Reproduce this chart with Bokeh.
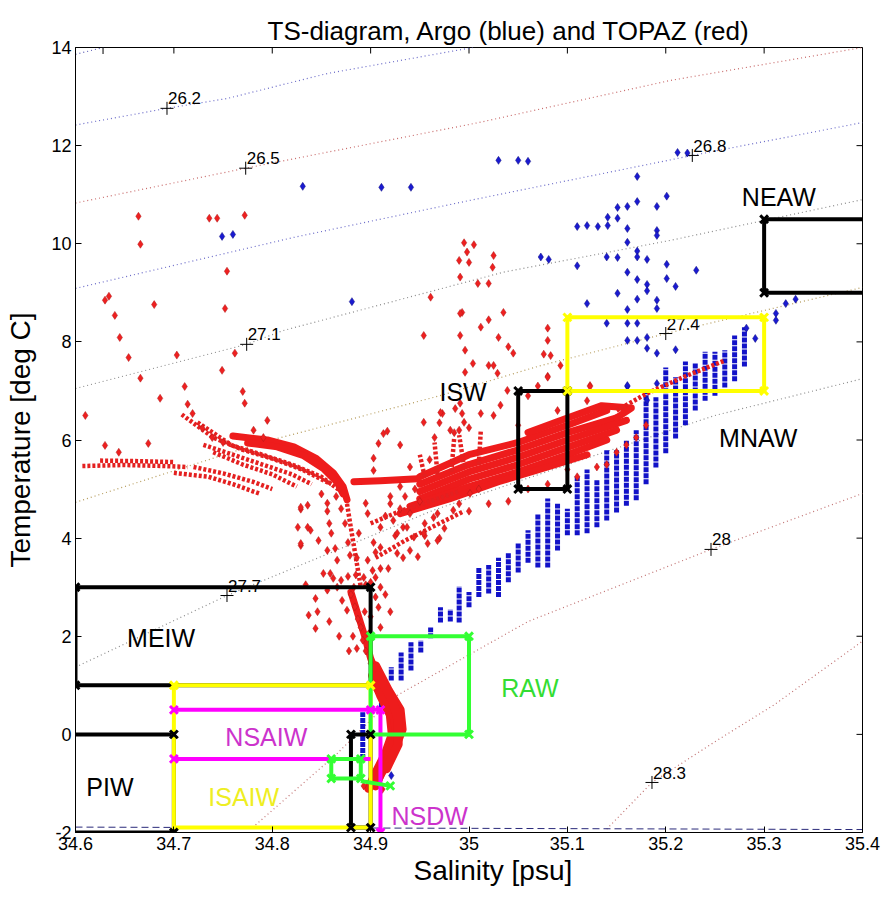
from bokeh.plotting import figure
from bokeh.models import Range1d, FixedTicker, Title
from bokeh.core.properties import value
from bokeh.embed import file_html
from bokeh.resources import INLINE

# ---------------- axes ----------------
X_TICKS = [34.6, 34.7, 34.8, 34.9, 35.0, 35.1, 35.2, 35.3, 35.4]
X_LABELS = ["34.6", "34.7", "34.8", "34.9", "35", "35.1", "35.2", "35.3", "35.4"]
Y_TICKS = [-2, 0, 2, 4, 6, 8, 10, 12, 14]
Y_LABELS = ["-2", "0", "2", "4", "6", "8", "10", "12", "14"]
S_MIN, S_MAX = 34.6, 35.4
T_MIN, T_MAX = -2, 14

# ---------------- isopycnals (sigma-theta) ----------------
ISO_NAMES = ["25.9", "26.2", "26.5", "26.8", "27.1", "27.4", "27.7", "28", "28.3"]
ISO_S = [
    [34.6, 34.628, 34.66],
    [34.6, 34.693, 34.754, 34.856, 35.004],
    [34.6, 34.773, 35.01, 35.205, 35.4],
    [34.6, 34.822, 35.0, 35.227, 35.4],
    [34.6, 34.774, 34.811, 35.035, 35.205, 35.4],
    [34.6, 34.79, 34.97, 35.07, 35.2, 35.4],
    [34.6, 34.754, 34.964, 35.13, 35.25, 35.4],
    [34.78, 34.866, 34.923, 35.06, 35.246, 35.4],
    [35.14, 35.186, 35.25, 35.31, 35.4],
]
ISO_T = [
    [13.86, 14.0, 14.15],
    [12.42, 12.76, 12.96, 13.47, 14.0],
    [10.83, 11.54, 12.47, 13.33, 14.0],
    [9.09, 10.13, 10.88, 11.8, 12.47],
    [7.05, 7.95, 8.23, 9.42, 10.07, 10.9],
    [4.73, 5.95, 6.9, 7.5, 8.17, 9.11],
    [1.37, 2.83, 4.57, 5.7, 6.5, 7.25],
    [-1.9, -0.39, 0.75, 2.3, 3.77, 4.91],
    [-1.93, -0.98, -0.15, 0.6, 1.9],
]
ISO_COLORS = ["#5a5ab4", "#6a6ac8", "#c86a6a", "#6a6ac8", "#8a8a8a",
              "#b49a5a", "#8a8a8a", "#c07070", "#c07070"]

# clabel positions: "+" marks and their numbers (the 25.9 number falls off the top)
CROSS_S = [34.628, 34.693, 34.773, 35.227, 34.774, 35.2, 34.754, 35.246, 35.186]
CROSS_T = [14.0, 12.76, 11.54, 11.8, 7.95, 8.17, 2.83, 3.77, -0.98]
CLABEL_S = [34.693, 34.773, 35.227, 34.774, 35.2, 34.754, 35.246, 35.186]
CLABEL_T = [12.76, 11.54, 11.8, 7.95, 8.17, 2.83, 3.77, -0.98]
CLABEL_TXT = ["26.2", "26.5", "26.8", "27.1", "27.4", "27.7", "28", "28.3"]

# surface freezing line
FREEZE_S = [34.6, 35.4]
FREEZE_T = [-1.89, -1.94]

# ---------------- Argo (blue) ----------------
# vertical stacks of profile points: salinity, lowest and highest temperature
BLUE_COL_S = [34.892, 34.911, 34.921, 34.931, 34.941, 34.951, 34.961, 34.971, 34.981,
              34.990, 35.000, 35.010, 35.020, 35.030, 35.040, 35.050, 35.060, 35.070,
              35.080, 35.090, 35.100, 35.110, 35.120, 35.130, 35.140, 35.150, 35.160,
              35.170, 35.180, 35.190, 35.200, 35.210, 35.220, 35.230, 35.240, 35.250,
              35.260, 35.270, 35.280]
BLUE_COL_LO = [-0.50, 0.55, 1.10, 1.10, 1.30, 1.67, 1.96, 2.28, 2.30,
               2.28, 2.59, 2.80, 2.87, 2.80, 3.10, 3.30, 3.50, 3.40,
               3.40, 3.75, 4.06, 4.06, 4.10, 4.22, 4.36, 4.52, 4.66,
               4.77, 5.10, 5.44, 5.73, 6.03, 6.30, 6.60, 6.80, 6.90,
               7.07, 7.20, 7.50]
BLUE_COL_HI = [0.45, 0.96, 1.37, 1.67, 1.88, 1.92, 2.18, 2.59, 2.55,
               3.02, 2.90, 3.40, 3.45, 3.60, 3.70, 3.90, 4.16, 4.50,
               4.81, 4.70, 4.60, 5.28, 5.40, 5.18, 5.79, 5.79, 6.00,
               6.20, 7.00, 6.87, 7.48, 7.28, 7.60, 7.56, 7.80, 7.80,
               7.83, 8.13, 8.30]

BLUE_POINTS = [
    (34.831, 11.17), (34.911, 11.15), (34.941, 11.15), (34.749, 10.15), (34.760, 10.19),
    (35.030, 11.70), (35.050, 11.70), (35.060, 11.68), (35.171, 11.37), (35.212, 11.86),
    (35.222, 11.85), (34.881, 8.82),
    (35.151, 10.74), (35.161, 10.76), (35.171, 10.86), (35.191, 10.76), (35.201, 10.97),
    (35.110, 10.35), (35.120, 10.37), (35.131, 10.35), (35.141, 10.37), (35.141, 10.54),
    (35.151, 10.52), (35.161, 10.31), (35.191, 10.27), (35.191, 10.17), (35.161, 10.03),
    (35.171, 9.85), (35.171, 9.73), (35.181, 9.68), (35.140, 9.73), (35.151, 9.72),
    (35.110, 9.55), (35.073, 9.73), (35.081, 9.68), (35.201, 9.58), (35.231, 9.46),
    (35.161, 9.42), (35.171, 9.27), (35.181, 9.17), (35.181, 9.04), (35.201, 9.29),
    (35.210, 9.13), (35.151, 8.99), (35.171, 8.87), (35.191, 8.85), (35.191, 8.68),
    (35.120, 8.78), (35.161, 8.66), (35.161, 8.38), (35.171, 8.38), (35.140, 8.38),
    (35.181, 8.09), (35.171, 8.03), (35.161, 8.03), (35.181, 7.87), (35.191, 7.77),
    (35.210, 7.84), (35.161, 7.09), (35.312, 8.58), (35.312, 8.44), (35.322, 8.78),
    (35.332, 8.87), (35.282, 8.28), (35.291, 8.07), (34.921, -0.84), (35.161, 7.11),
    (35.181, 6.81), (35.191, 7.15),
]

# ---------------- TOPAZ (red) ----------------
RED_UPPER = [
    (34.664, 10.56), (34.666, 9.99), (34.736, 10.52), (34.744, 10.52), (34.772, 10.58),
    (34.754, 9.44), (34.752, 8.68), (34.630, 8.85), (34.634, 8.93), (34.640, 8.54),
    (34.645, 8.09), (34.654, 7.68), (34.666, 7.26), (34.680, 8.76), (34.703, 7.73),
    (34.762, 7.77), (34.749, 7.42), (34.770, 6.99), (34.772, 6.75), (34.711, 7.09),
    (34.686, 6.85), (34.610, 6.50), (34.714, 6.73), (34.719, 6.54), (34.729, 6.24),
    (34.739, 6.05), (34.750, 5.95), (34.795, 6.40), (34.781, 6.20), (34.791, 6.05),
    (34.674, 5.93), (34.630, 5.89), (34.644, 5.75),
]
RED_COLUMN = [
    (34.998, 9.83), (35.000, 9.62), (35.025, 9.76), (35.024, 9.52), (34.991, 9.32),
    (35.020, 9.19), (34.961, 8.91), (34.993, 8.60), (35.020, 8.45), (35.012, 8.30),
    (35.030, 8.09), (34.954, 8.13), (34.991, 8.13), (34.996, 7.83), (35.020, 7.52),
    (35.029, 7.36), (35.039, 7.01), (35.035, 8.60), (35.040, 7.90), (34.973, 6.54),
    (34.993, 6.54), (35.012, 6.54), (35.025, 6.50), (34.970, 6.35), (34.981, 6.20),
    (34.990, 6.20), (35.000, 6.25), (34.913, 6.13), (34.917, 6.18), (34.908, 5.93),
    (34.903, 5.63), (34.903, 5.38), (34.990, 9.66), (35.009, 9.19), (34.991, 8.58),
    (34.996, 7.38), (34.986, 6.64), (34.995, 10.02), (35.005, 9.98), (35.025, 7.52),
    (35.045, 7.77), (35.083, 7.72), (35.080, 7.30), (35.093, 7.52), (35.123, 7.11),
    (35.004, 7.56), (35.032, 6.71), (34.991, 6.75), (34.971, 6.56), (34.954, 6.36),
    (34.995, 6.36), (35.060, 6.90), (35.070, 7.10), (35.080, 8.28), (35.080, 8.03),
    (35.076, 7.75), (35.080, 7.28), (35.123, 7.09),
]
RED_STEM = [
    (34.856, 4.71), (34.856, 4.55), (34.858, 4.30), (34.860, 4.10), (34.874, 4.30),
    (34.877, 3.91), (34.879, 3.65), (34.836, 4.67), (34.829, 4.59), (34.826, 4.22),
    (34.836, 4.22), (34.829, 3.85), (34.847, 3.95), (34.856, 3.75), (34.864, 3.79),
    (34.866, 3.55), (34.886, 3.60), (34.895, 4.71), (34.897, 4.50), (34.888, 4.10),
    (34.903, 3.91), (34.905, 3.71), (34.918, 3.38), (34.910, 3.38), (34.902, 3.34),
    (34.893, 3.20), (34.885, 3.25), (34.877, 3.22), (34.870, 3.14), (34.883, 3.00),
    (34.895, 3.05), (34.910, 3.00), (34.910, 4.22), (34.923, 4.36), (34.925, 4.05),
    (34.933, 4.22), (34.940, 4.50), (34.944, 4.02), (34.950, 4.75), (34.955, 4.30),
    (34.958, 3.89), (34.964, 4.42), (34.975, 4.20), (34.984, 4.57), (34.990, 4.70),
    (35.001, 4.91), (35.010, 5.00), (34.970, 4.00), (34.927, 3.69), (34.933, 3.60),
    (34.940, 3.75), (34.948, 3.62), (34.968, 3.95), (34.955, 4.05), (34.844, 2.77),
    (34.837, 2.43), (34.844, 2.16), (34.852, 3.28), (34.862, 3.18), (34.856, 2.94),
    (34.866, 3.00), (34.871, 2.73), (34.876, 2.53), (34.880, 2.85), (34.884, 2.60),
    (34.887, 2.35), (34.890, 2.18), (34.892, 1.92), (34.895, 1.70), (34.900, 1.45),
    (34.908, 2.59), (34.910, 2.18), (34.905, 2.80), (34.900, 2.40), (34.898, 2.05),
    (34.894, 2.50), (34.882, 2.00), (34.886, 1.75), (34.900, 3.10), (34.905, 3.20),
    (34.915, 2.85), (34.920, 2.50), (34.834, 3.05), (34.846, 2.50), (34.858, 2.30),
    (34.868, 2.00), (34.878, 1.70), (34.829, 4.63), (34.829, 3.89), (34.839, 4.16),
    (34.859, 3.28), (34.897, 3.55), (34.910, 3.81), (34.927, 4.10), (34.937, 4.22),
    (34.954, 4.10), (34.968, 4.50), (34.865, 4.85), (34.870, 4.60), (34.850, 4.90),
    (34.920, 4.70), (34.915, 4.45), (34.935, 4.85), (34.945, 5.00), (34.930, 4.60),
]
RED_FAN_EDGE = [
    (34.930, 5.90), (34.940, 5.45), (34.930, 5.05), (34.920, 4.85), (34.960, 5.60),
    (35.140, 5.50), (35.160, 5.90), (35.180, 6.30), (35.100, 5.40), (35.060, 5.00),
    (35.040, 4.75), (35.120, 6.80), (35.090, 6.60), (35.050, 6.30), (34.893, -1.05),
    (34.912, -1.12), (35.110, 5.25), (35.130, 5.45), (35.150, 5.75), (35.170, 6.05),
    (35.080, 5.10), (35.020, 4.70), (35.000, 4.55), (34.965, 6.05), (34.985, 6.15),
]

# dense bundles of model profiles (drawn solid)
RED_DENSE = [
    [(34.760, 6.08), (34.795, 6.00), (34.822, 5.86), (34.845, 5.62), (34.862, 5.33), (34.872, 5.05), (34.876, 4.78)],
    [(34.775, 5.94), (34.805, 5.86), (34.832, 5.68), (34.852, 5.42), (34.866, 5.14), (34.872, 4.90)],
    [(34.883, 5.15), (34.910, 5.17), (34.948, 5.21)],
    [(34.950, 5.25), (35.000, 5.70), (35.050, 5.95), (35.100, 6.30), (35.140, 6.60)],
    [(34.950, 5.10), (35.000, 5.50), (35.050, 5.80), (35.100, 6.15), (35.150, 6.45)],
    [(34.950, 4.95), (35.000, 5.35), (35.050, 5.65), (35.100, 6.00), (35.160, 6.40)],
    [(34.950, 4.80), (35.000, 5.20), (35.050, 5.50), (35.100, 5.85), (35.150, 6.20)],
    [(34.940, 4.65), (35.000, 5.05), (35.050, 5.35), (35.100, 5.70), (35.140, 6.00)],
    [(34.930, 4.50), (34.980, 4.80), (35.030, 5.15), (35.080, 5.45), (35.120, 5.70)],
    [(35.060, 6.15), (35.100, 6.45), (35.135, 6.70), (35.165, 6.65), (35.150, 6.45)],
    [(34.880, 2.90), (34.887, 2.45), (34.894, 2.00), (34.900, 1.55), (34.905, 1.30)],
]
# the cold, near-bottom cluster
RED_BLOB = [
    [(34.905, 1.40), (34.918, 0.90), (34.930, 0.50), (34.932, 0.10), (34.922, -0.40), (34.910, -0.80), (34.905, -1.05)],
    [(34.902, 1.20), (34.910, 0.80), (34.920, 0.40), (34.922, 0.00), (34.915, -0.40), (34.905, -0.80), (34.898, -1.10)],
    [(34.905, 1.00), (34.915, 0.70), (34.925, 0.30), (34.926, -0.10), (34.918, -0.50), (34.908, -0.90)],
    [(34.908, 1.20), (34.922, 0.70), (34.928, 0.30), (34.928, -0.20), (34.916, -0.70)],
]
# single profiles drawn as rows of dots
RED_DOTTED = [
    [(34.607, 5.47), (34.650, 5.49), (34.690, 5.47), (34.714, 5.45)],
    [(34.625, 5.58), (34.660, 5.57), (34.700, 5.55)],
    [(34.700, 5.33), (34.735, 5.25), (34.760, 5.10), (34.788, 4.90)],
    [(34.720, 5.45), (34.750, 5.32), (34.780, 5.15), (34.800, 5.00)],
    [(34.708, 6.52), (34.740, 6.05), (34.770, 5.80), (34.800, 5.62), (34.830, 5.40), (34.860, 5.10)],
    [(34.724, 6.36), (34.759, 5.89), (34.790, 5.70), (34.820, 5.50), (34.850, 5.25), (34.870, 4.95)],
    [(34.730, 5.90), (34.760, 5.70), (34.790, 5.50), (34.820, 5.30), (34.840, 5.10)],
    [(34.740, 5.75), (34.770, 5.50), (34.800, 5.30), (34.825, 5.05)],
    [(34.968, 5.30), (34.965, 5.95)],
    [(34.982, 5.35), (34.985, 6.05)],
    [(34.995, 5.45), (34.990, 6.10)],
    [(35.010, 5.50), (35.012, 6.20)],
    [(34.955, 5.25), (34.950, 5.70)],
    [(35.150, 6.60), (35.181, 6.95), (35.220, 7.30), (35.260, 7.62)],
    [(34.876, 4.70), (34.880, 4.20), (34.885, 3.60), (34.890, 3.00)],
    [(34.900, 4.30), (34.930, 4.55), (34.960, 4.75), (34.990, 4.95)],
    [(34.905, 3.60), (34.935, 3.95), (34.965, 4.25), (34.995, 4.55)],
]

# ---------------- water-mass boxes ----------------
BOXES = [
    ("black",   [35.45, 35.3, 35.3, 35.45], [10.5, 10.5, 9.0, 9.0]),              # NEAW
    ("black",   [35.05, 35.1, 35.1, 35.05, 35.05], [7, 7, 5, 5, 7]),                # ISW
    ("black",   [34.6, 34.9, 34.9, 34.6, 34.6], [3, 3, 1, 1, 3]),                   # MEIW
    ("black",   [34.55, 34.7, 34.7, 34.55], [0, 0, -2, -2]),                        # PIW
    ("black",   [34.88, 34.9, 34.9, 34.88, 34.88], [0, 0, -1.9, -1.9, 0]),
    ("#ffff00", [34.7, 34.9, 34.9, 34.7, 34.7], [1, 1, -1.9, -1.9, 1]),             # ISAIW
    ("#ffff00", [35.1, 35.3, 35.3, 35.1, 35.1], [8.5, 8.5, 7, 7, 8.5]),             # MNAW
    ("#ff00ff", [34.7, 34.9], [0.5, 0.5]),                                          # NSAIW
    ("#ff00ff", [34.7, 34.9], [-0.5, -0.5]),
    ("#ff00ff", [34.9, 34.91, 34.91], [0.5, 0.5, -2]),                              # NSDW
    ("#33ff33", [34.9, 35.0, 35.0, 34.9, 34.9], [2, 2, 0, 0, 2]),                   # RAW
    ("#33ff33", [34.86, 34.89, 34.89, 34.86, 34.86], [-0.5, -0.5, -0.9, -0.9, -0.5]),
    ("#33ff33", [34.89, 34.92], [-0.95, -1.05]),
]
CORNERS = [
    ("black", [35.3, 35.3, 35.05, 35.1, 35.05, 35.1, 34.6, 34.9, 34.6, 34.7, 34.7, 34.88, 34.9, 34.88, 34.9],
              [10.5, 9.0, 7, 7, 5, 5, 3, 3, 1, 0, -2, 0, 0, -1.9, -1.9]),
    ("#ffff00", [35.1, 35.3, 35.1, 35.3, 34.7, 34.9], [8.5, 8.5, 7, 7, 1, 1]),
    ("#ff00ff", [34.7, 34.9, 34.7, 34.91, 34.91], [0.5, 0.5, -0.5, 0.5, -2]),
    ("#33ff33", [34.9, 35.0, 35.0, 34.86, 34.89, 34.86, 34.89, 34.92],
                [2, 2, 0, -0.5, -0.5, -0.9, -0.9, -1.05]),
]
REGION_NAMES = ["NEAW", "ISW", "MNAW", "MEIW", "PIW", "NSAIW", "ISAIW", "NSDW", "RAW"]
REGION_S = [35.315, 34.994, 35.294, 34.687, 34.635, 34.794, 34.771, 34.960, 35.062]
REGION_T = [10.95, 6.97, 6.05, 1.96, -1.08, -0.06, -1.28, -1.67, 0.94]
REGION_COLORS = ["black", "black", "black", "black", "black",
                 "#cc33cc", "#eeee22", "#cc33cc", "#33dd33"]

SANS = "Liberation Sans, Arial, sans-serif"

p = figure(width=884, height=898, x_range=Range1d(S_MIN, S_MAX), y_range=Range1d(T_MIN, T_MAX),
           output_backend="svg", toolbar_location=None,
           min_border_left=75, min_border_right=22, min_border_top=47, min_border_bottom=66,
           title="TS-diagram, Argo (blue) and TOPAZ (red)")
p.title.align = "left"
p.title.offset = 192
p.title.text_font = SANS
p.title.text_font_size = "26px"
p.title.text_font_style = "normal"
p.title.text_color = "black"
p.title.standoff = 4
p.xgrid.visible = False
p.ygrid.visible = False
p.outline_line_color = "black"
p.background_fill_color = "white"

for ax in (p.xaxis[0], p.yaxis[0]):
    ax.major_tick_in = 6
    ax.major_tick_out = 0
    ax.minor_tick_line_color = None
    ax.axis_line_color = "black"
    ax.major_tick_line_color = "black"
    ax.major_label_text_font = SANS
    ax.major_label_text_font_size = "18px"
    ax.major_label_text_color = "black"
    ax.axis_label_text_font = SANS
    ax.axis_label_text_font_size = "28px"
    ax.axis_label_text_font_style = "normal"
    ax.axis_label_text_color = "black"
p.xaxis.ticker = FixedTicker(ticks=X_TICKS)
p.xaxis.major_label_overrides = dict(zip(X_TICKS, X_LABELS))
p.yaxis.ticker = FixedTicker(ticks=Y_TICKS)
p.yaxis.major_label_overrides = dict(zip(Y_TICKS, Y_LABELS))
p.yaxis.axis_label = "Temperature [deg C]"
p.xaxis.major_label_standoff = 4
p.yaxis.major_label_standoff = 4
p.yaxis.axis_label_standoff = 12

# salinity axis title, set a little right of the frame centre
p.add_layout(Title(text="Salinity [psu]", align="left", offset=338, text_font=SANS,
                   text_font_size="28px", text_font_style="normal", text_color="black",
                   standoff=0), "below")

# inward tick marks on the top and right edges of the box
tick_dx = 6 / 787 * (S_MAX - S_MIN)
tick_dy = 6 / 785 * (T_MAX - T_MIN)
p.segment(X_TICKS, [T_MAX] * len(X_TICKS), X_TICKS, [T_MAX - tick_dy] * len(X_TICKS),
          line_color="black", line_width=1)
p.segment([S_MAX] * len(Y_TICKS), Y_TICKS, [S_MAX - tick_dx] * len(Y_TICKS), Y_TICKS,
          line_color="black", line_width=1)

# isopycnals
for xs, ys, c in zip(ISO_S, ISO_T, ISO_COLORS):
    p.line(xs, ys, line_color=c, line_width=1.2, line_dash="1 3")
p.line(FREEZE_S, FREEZE_T, line_color="#2a2a7a", line_width=1, line_dash="7 4")
p.scatter(CROSS_S, CROSS_T, marker="cross", size=13, line_color="black", line_width=1)
p.text([s + 0.001 for s in CLABEL_S], [t + 0.08 for t in CLABEL_T], text=CLABEL_TXT,
       text_font=value(SANS), text_font_size="17px", text_color="black",
       text_baseline="bottom", text_align="left")

# Argo profiles
p.segment(BLUE_COL_S, BLUE_COL_LO, BLUE_COL_S, BLUE_COL_HI, line_color="#1212c8",
          line_width=5, line_dash="5 1")
p.scatter([a for a, b in BLUE_POINTS], [b for a, b in BLUE_POINTS], marker="diamond",
          size=8, fill_color="#1a1ad0", line_color="#101080", line_width=0.5)

# TOPAZ profiles
p.multi_line([[a for a, b in tr] for tr in RED_DENSE], [[b for a, b in tr] for tr in RED_DENSE],
             line_color="#ee1c1c", line_width=7, line_cap="round", line_join="round")
p.multi_line([[a for a, b in tr] for tr in RED_BLOB], [[b for a, b in tr] for tr in RED_BLOB],
             line_color="#ee1c1c", line_width=9, line_cap="round", line_join="round")
p.multi_line([[a for a, b in tr] for tr in RED_DOTTED], [[b for a, b in tr] for tr in RED_DOTTED],
             line_color="#e42020", line_width=4.5, line_dash="3 2")
for grp in (RED_UPPER, RED_COLUMN, RED_STEM, RED_FAN_EDGE):
    p.scatter([a for a, b in grp], [b for a, b in grp], marker="diamond", size=8,
              fill_color="#ee2020", line_color="#b01818", line_width=0.5)

# water-mass boxes
for c, xs, ys in BOXES:
    p.line(xs, ys, line_color=c, line_width=4, line_join="miter")
for c, xs, ys in CORNERS:
    p.scatter(xs, ys, marker="x", size=11, line_color=c, line_width=3)

p.text(REGION_S, REGION_T, text=REGION_NAMES, text_color=REGION_COLORS,
       text_font=value(SANS), text_font_size="25px", text_align="center",
       text_baseline="middle")

open("out.html", "w").write(file_html(p, INLINE))
